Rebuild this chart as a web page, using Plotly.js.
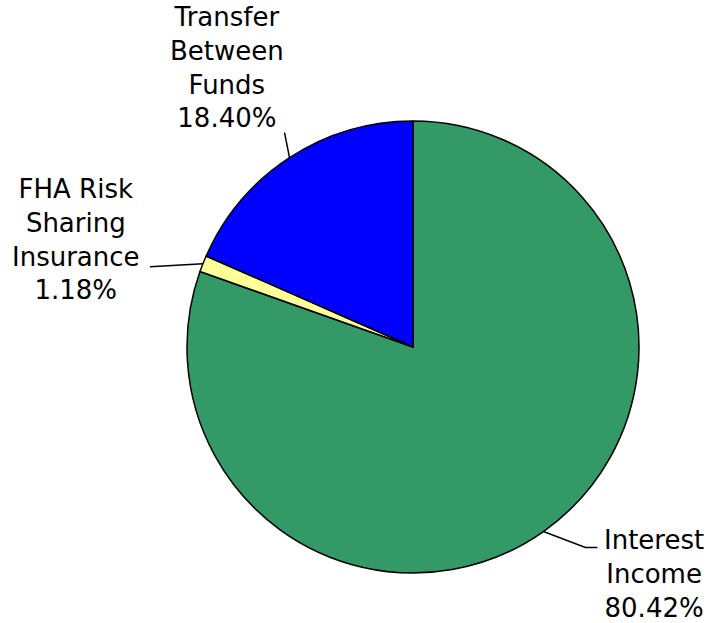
<!DOCTYPE html>
<html>
<head>
<meta charset="utf-8">
<script src="https://cdn.plot.ly/plotly-3.0.1.min.js"></script>
<style>body{margin:0;background:#fff}#graph{width:717px;height:623px}</style>
</head>
<body>
<div id="graph"></div>
<script>
// slices, clockwise from 12 o'clock
var labels = ['Interest Income', 'FHA Risk Sharing Insurance', 'Transfer Between Funds'];
var values = [80.42, 1.18, 18.40];
var labelLines = ['Interest<br>Income', 'FHA Risk<br>Sharing<br>Insurance', 'Transfer<br>Between<br>Funds'];
var colors = ['#339966', '#ffff99', '#0000ff'];

var W = 717, H = 623;
// pie centre and radius in pixels
var cx = 413, cy = 347, r = 226;

// where each label sits relative to the slice's edge midpoint, plus leader line bends
var place = [
  {tx: 111, ty: 42, pts: [[42, 16], [54, 16]]},
  {tx: -127, ty: -24, pts: [[-53, 3]]},
  {tx: -63, ty: -90, pts: [[-5, -25]]}
];

function px(x) { return x / W; }
function py(y) { return 1 - y / H; }

var total = values.reduce(function(a, b) { return a + b; }, 0);
var annotations = [], shapes = [];
var cum = 0;
for (var i = 0; i < values.length; i++) {
  var mid = (cum + values[i] / 2) / total * 2 * Math.PI;
  cum += values[i];
  var ex = cx + r * Math.sin(mid);
  var ey = cy - r * Math.cos(mid);

  var path = 'M' + px(ex) + ',' + py(ey);
  place[i].pts.forEach(function(p) {
    path += ' L' + px(ex + p[0]) + ',' + py(ey + p[1]);
  });
  shapes.push({
    type: 'path', xref: 'paper', yref: 'paper', path: path,
    line: {color: '#000', width: 1.5}
  });

  annotations.push({
    xref: 'paper', yref: 'paper',
    x: px(ex + place[i].tx), y: py(ey + place[i].ty),
    xanchor: 'center', yanchor: 'middle', align: 'center',
    showarrow: false,
    text: labelLines[i] + '<br>' + values[i].toFixed(2) + '%',
    font: {family: 'DejaVu Sans, Verdana, sans-serif', size: 26, color: '#000'}
  });
}

var trace = {
  type: 'pie',
  labels: labels,
  values: values,
  sort: false,
  direction: 'clockwise',
  rotation: 0,
  textinfo: 'none',
  hoverinfo: 'label+percent',
  marker: {colors: colors, line: {color: '#000', width: 1.5}},
  domain: {x: [px(cx - r), px(cx + r)], y: [py(cy + r), py(cy - r)]}
};

var layout = {
  width: W,
  height: H,
  margin: {l: 0, r: 0, t: 0, b: 0},
  showlegend: false,
  paper_bgcolor: 'white',
  font: {family: 'DejaVu Sans, Verdana, sans-serif'},
  annotations: annotations,
  shapes: shapes
};

Plotly.newPlot('graph', [trace], layout, {displayModeBar: false});
</script>
</body>
</html>
